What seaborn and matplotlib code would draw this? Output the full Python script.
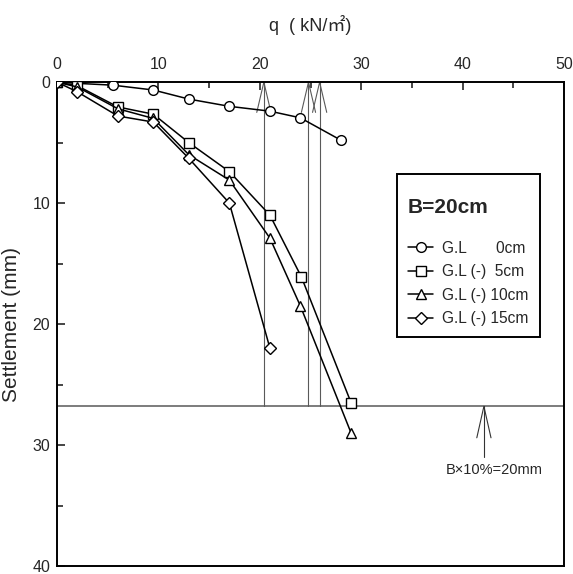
import numpy as np
import pandas as pd
import matplotlib
matplotlib.use("Agg")
import matplotlib.pyplot as plt
import seaborn as sns

# load q (kN/m2) and settlement (mm) for each embedment depth
q_gl0 = [0, 2, 5.5, 9.5, 13, 17, 21, 24, 28]
s_gl0 = [0, 0.1, 0.25, 0.65, 1.4, 2.0, 2.4, 2.95, 4.8]
q_gl5 = [0, 2, 6, 9.5, 13, 17, 21, 24.1, 29]
s_gl5 = [0, 0.3, 2.05, 2.65, 5.0, 7.4, 11.0, 16.1, 26.5]
q_gl10 = [0, 2, 6, 9.5, 13, 17, 21, 24, 29]
s_gl10 = [0, 0.4, 2.2, 3.0, 6.0, 8.1, 12.9, 18.5, 29.0]
q_gl15 = [0, 2, 6, 9.5, 13, 17, 21]
s_gl15 = [0, 0.8, 2.8, 3.3, 6.3, 10.0, 22.0]

labels = ["G.L       0cm", "G.L (-)  5cm", "G.L (-) 10cm", "G.L (-) 15cm"]

# ultimate loads read at the 20 mm settlement line
limit_s = 26.8
ult_q = [20.4, 24.8, 25.9]
note_q = 42.1
note_text = "B×10%=20mm"

sns.set_style("ticks")
plt.rcParams["font.family"] = ["Liberation Sans", "Noto Sans CJK KR", "DejaVu Sans"]

fig = plt.figure(figsize=(5.73, 5.74), dpi=100)
ax = fig.add_axes([0.0995, 0.0139, 0.8848, 0.843])

series = [(q_gl0, s_gl0, "o", 7), (q_gl5, s_gl5, "s", 6.5),
          (q_gl10, s_gl10, "^", 7), (q_gl15, s_gl15, "D", 6)]
for (q, s, m, ms), lab in zip(series, labels):
    sns.lineplot(x=q, y=s, ax=ax, sort=False, estimator=None, color="black",
                 linewidth=1.1, marker=m, markersize=ms, markerfacecolor="white",
                 markeredgecolor="black", markeredgewidth=1.0, label=lab, zorder=3)

# 20 mm limit line and vertical lines to the ultimate loads
ax.axhline(limit_s, color="0.4", linewidth=1.2, zorder=1)
for xq in ult_q:
    ax.plot([xq, xq], [0, limit_s], color="0.35", linewidth=0.8, zorder=1)
    ax.plot([xq - 0.7, xq, xq + 0.7], [2.5, 0, 2.5], color="0.35", linewidth=0.8, zorder=1)

ax.plot([note_q, note_q], [limit_s, limit_s + 4.2], color="0.2", linewidth=0.8)
ax.plot([note_q - 0.7, note_q, note_q + 0.7], [limit_s + 2.6, limit_s, limit_s + 2.6],
        color="0.2", linewidth=0.8)
ax.text(note_q + 1.0, limit_s + 5.3, note_text, ha="center", va="center", fontsize=10.5)

ax.set_xlim(0, 50)
ax.set_ylim(40, 0)
ax.xaxis.tick_top()
ax.xaxis.set_label_position("top")
ax.set_xticks(np.arange(0, 51, 10))
ax.set_xticks(np.arange(0, 51, 5), minor=True)
ax.set_yticks(np.arange(0, 41, 10))
ax.set_yticks(np.arange(0, 41, 5), minor=True)
ax.tick_params(axis="both", which="both", direction="in", labelsize=11.5, width=1.2)
ax.tick_params(axis="x", which="major", length=6, pad=7, top=True, bottom=False)
ax.tick_params(axis="x", which="minor", length=4, top=True, bottom=False)
ax.tick_params(axis="y", which="major", length=6, pad=5, left=True, right=False)
ax.tick_params(axis="y", which="minor", length=4, left=True, right=False)

for sp in ax.spines.values():
    sp.set_visible(True)
    sp.set_linewidth(1.4)
    sp.set_color("black")

ax.set_xlabel("q  ( kN/㎡)", fontsize=13, labelpad=19)
ax.set_ylabel("Settlement (mm)", fontsize=15, labelpad=8)

leg = ax.legend(title="\nB=20cm", loc="upper left", bbox_to_anchor=(0.671, 0.810),
                borderaxespad=0, frameon=True, fancybox=False, edgecolor="black",
                framealpha=1, fontsize=11.2,
                title_fontproperties={"weight": "bold", "size": 15},
                handlelength=1.6, handletextpad=0.6, labelspacing=0.55, borderpad=0.7)
leg.get_frame().set_linewidth(1.4)
leg.get_title().set_linespacing(0.6)
leg._legend_box.align = "left"
leg._legend_box.sep = 17

fig.savefig("out.png", dpi=100)
